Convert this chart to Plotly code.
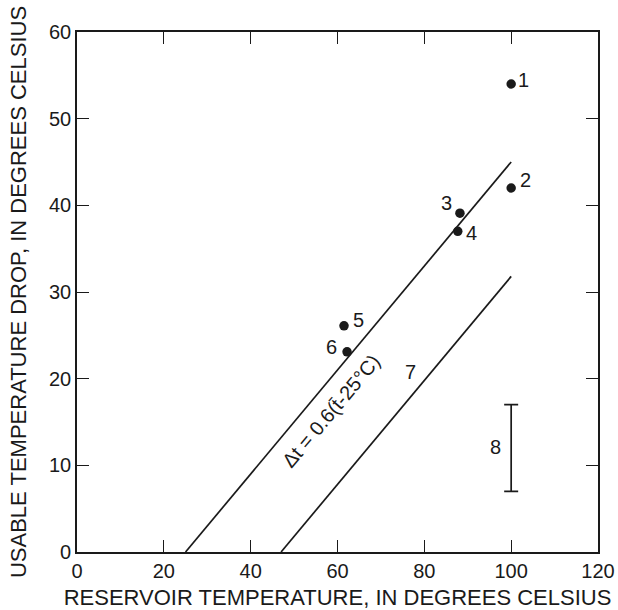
import plotly.graph_objects as go

# Data
pt_x = [100, 100, 88.2, 87.7, 61.5, 62.2]
pt_y = [54, 42, 39.1, 37, 26.1, 23.1]
pt_lbl = ["1", "2", "3", "4", "5", "6"]
lbl_dx = [12, 14, -13, 14, 14, -16]
lbl_dy = [4, 8, 10, -2, 6, 5]

line1_x = [25, 100]
line1_y = [0, 45]
line7_x = [47, 100]
line7_y = [0, 31.8]

bar8_x = [100]
bar8_mid = [12]
bar8_half = [5]

x_ticks = [0, 20, 40, 60, 80, 100, 120]
y_ticks = [0, 10, 20, 30, 40, 50, 60]

ink = "#1a1a1a"
font = "Liberation Sans"

fig = go.Figure()
fig.add_trace(go.Scatter(x=line1_x, y=line1_y, mode="lines",
                         line=dict(color=ink, width=1.7), hoverinfo="skip"))
fig.add_trace(go.Scatter(x=line7_x, y=line7_y, mode="lines",
                         line=dict(color=ink, width=1.7), hoverinfo="skip"))
# range bar 8
fig.add_trace(go.Scatter(x=bar8_x, y=bar8_mid, mode="markers",
                         marker=dict(size=0.1, color="rgba(0,0,0,0)"),
                         error_y=dict(type="data", symmetric=True, array=bar8_half,
                                      color=ink, thickness=1.7, width=7),
                         hoverinfo="skip"))
fig.add_trace(go.Scatter(x=pt_x, y=pt_y, mode="markers",
                         marker=dict(size=9.5, color=ink), hoverinfo="skip"))

for x, y, t, dx, dy in zip(pt_x, pt_y, pt_lbl, lbl_dx, lbl_dy):
    fig.add_annotation(x=x, y=y, text=t, showarrow=False, xshift=dx, yshift=dy,
                       font=dict(family=font, size=20, color=ink))

fig.add_annotation(x=76.7, y=20.8, text="7", showarrow=False,
                   font=dict(family=font, size=20, color=ink))
fig.add_annotation(x=96.5, y=12.1, text="8", showarrow=False,
                   font=dict(family=font, size=20, color=ink))
fig.add_annotation(x=58.5, y=16.3, text="\u0394t = 0.6(t\u0304-25\u00b0C)", showarrow=False,
                   textangle=-50, font=dict(family=font, size=20, color=ink))

axis_common = dict(showline=True, linecolor=ink, linewidth=1.6, mirror="ticks",
                   ticks="inside", ticklen=12, tickwidth=1.4, tickcolor=ink,
                   showgrid=False, zeroline=False, automargin=False,
                   tickfont=dict(family=font, size=20, color=ink))

fig.update_xaxes(range=[0, 120], tickvals=x_ticks,
                 title=dict(text="RESERVOIR TEMPERATURE, IN DEGREES CELSIUS",
                            font=dict(family=font, size=22, color=ink), standoff=9),
                 **axis_common)
fig.update_yaxes(range=[0, 60], tickvals=y_ticks,
                 title=dict(text="USABLE TEMPERATURE DROP, IN DEGREES CELSIUS",
                            font=dict(family=font, size=22, color=ink), standoff=16),
                 **axis_common)

fig.update_layout(width=618, height=610, showlegend=False,
                  margin=dict(l=77, r=20, t=32, b=58),
                  paper_bgcolor="white", plot_bgcolor="white")

fig.write_html("out.html")
